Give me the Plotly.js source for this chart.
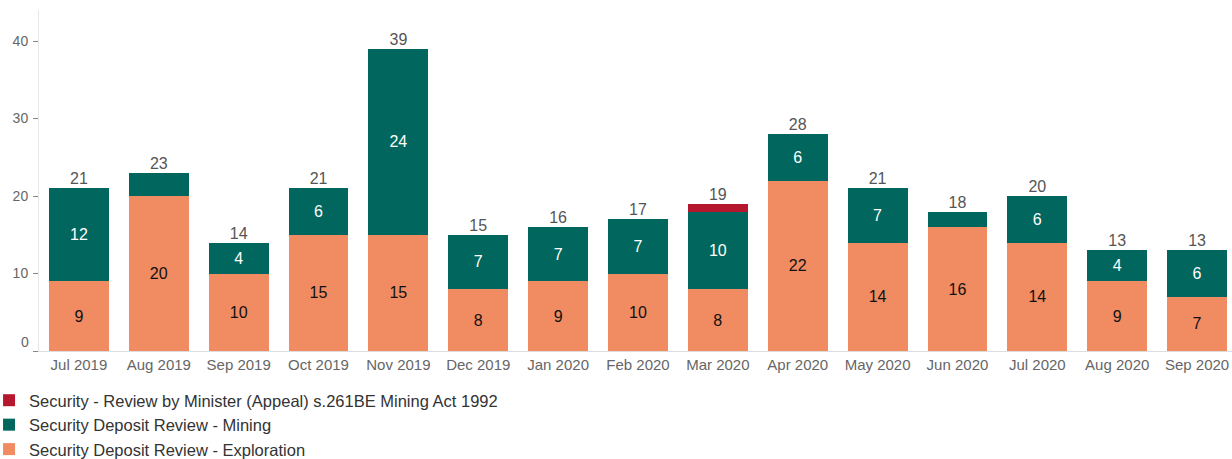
<!DOCTYPE html>
<html>
<head>
<meta charset="utf-8">
<script src="https://cdn.plot.ly/plotly-3.0.1.min.js"></script>
<style>
html,body{margin:0;padding:0;background:#fff;overflow:hidden;}
#chart{width:1237px;height:459px;}
</style>
</head>
<body>
<div id="chart"></div>
<script>
var months = ["Jul 2019","Aug 2019","Sep 2019","Oct 2019","Nov 2019","Dec 2019","Jan 2020","Feb 2020","Mar 2020","Apr 2020","May 2020","Jun 2020","Jul 2020","Aug 2020","Sep 2020"];
var exploration = [9,20,10,15,15,8,9,10,8,22,14,16,14,9,7];
var mining = [12,3,4,6,24,7,7,7,10,6,7,2,6,4,6];
var appeal = [0,0,0,0,0,0,0,0,1,0,0,0,0,0,0];
var yTickVals = [0,10,20,30,40];
var yTickText = ["","10","20","30","40"];

var nameExploration = "Security Deposit Review - Exploration";
var nameMining = "Security Deposit Review - Mining";
var nameAppeal = "Security - Review by Minister (Appeal) s.261BE Mining Act 1992";

function labels(arr){ return arr.map(function(v){ return v >= 4 ? String(v) : ""; }); }
var totals = months.map(function(m,i){ return exploration[i] + mining[i] + appeal[i]; });

var font = "Liberation Sans, Arial, sans-serif";

var traces = [
  {type:"bar", name:nameExploration, x:months, y:exploration, text:labels(exploration),
   textposition:"inside", insidetextanchor:"middle", textangle:0,
   textfont:{family:font, size:16, color:"#111"}, marker:{color:"#f08b62"}, hoverinfo:"x+y+name"},
  {type:"bar", name:nameMining, x:months, y:mining, text:labels(mining),
   textposition:"inside", insidetextanchor:"middle", textangle:0,
   textfont:{family:font, size:16, color:"#ffffff"}, marker:{color:"#00665e"}, hoverinfo:"x+y+name"},
  {type:"bar", name:nameAppeal, x:months, y:appeal, text:labels(appeal),
   textposition:"inside", insidetextanchor:"middle", textangle:0,
   textfont:{family:font, size:16, color:"#ffffff"}, marker:{color:"#b5172f"}, hoverinfo:"x+y+name"},
  {type:"scatter", mode:"text", x:months, y:totals, text:totals.map(String),
   textposition:"top center", textfont:{family:font, size:16, color:"#555"},
   showlegend:false, hoverinfo:"skip", cliponaxis:false}
];

var layout = {
  width:1237, height:459,
  margin:{l:39, r:0, t:10, b:108, autoexpand:false},
  barmode:"stack", bargap:0.25,
  paper_bgcolor:"#fff", plot_bgcolor:"#fff",
  font:{family:font, color:"#666", size:15},
  showlegend:true,
  legend:{orientation:"v", traceorder:"reversed", x:-0.0417, xanchor:"left", y:-0.0938, yanchor:"top",
          font:{family:font, size:16.5, color:"#333"}, tracegroupgap:0, bgcolor:"rgba(0,0,0,0)"},
  xaxis:{type:"category", range:[-0.5, 14.5], autorange:false, showgrid:false, showline:true, linecolor:"#dddddd", linewidth:1,
         ticks:"", tickfont:{family:font, size:15, color:"#666"}, zeroline:false, fixedrange:true},
  yaxis:{range:[0,44], autorange:false, tickvals:yTickVals, ticktext:yTickText, showgrid:false, showline:true, linecolor:"#e6e6e6", linewidth:1,
         ticks:"outside", ticklen:5, tickcolor:"#888", tickwidth:1, ticklabelstandoff:2,
         tickfont:{family:font, size:14, color:"#666"}, zeroline:false, fixedrange:true},
  annotations:[{xref:"paper", yref:"y", x:0, y:0, text:"0", showarrow:false, xanchor:"right", yanchor:"middle",
                xshift:-8, yshift:9, font:{family:font, size:14, color:"#666"}}]
};

Plotly.newPlot("chart", traces, layout, {displayModeBar:false});
</script>
</body>
</html>
